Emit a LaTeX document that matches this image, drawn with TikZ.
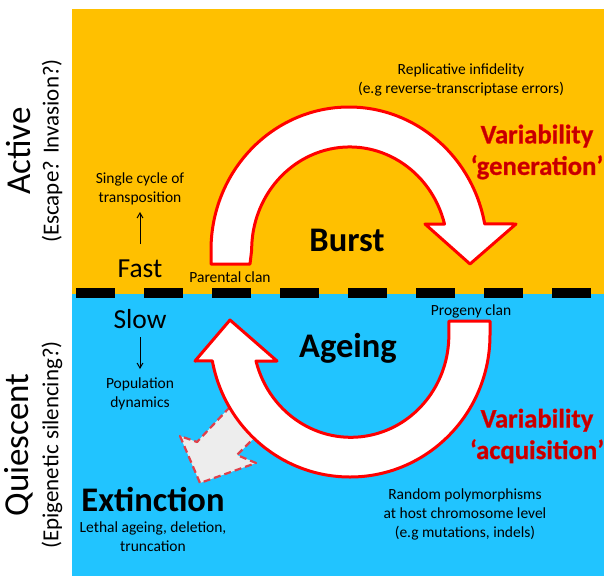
\documentclass[tikz,border=0pt]{standalone}
\usepackage{fontspec}
\setmainfont{Carlito}
\usetikzlibrary{arrows.meta}
\definecolor{orangebg}{HTML}{FFC000}
\definecolor{bluebg}{HTML}{21C4FF}
\definecolor{darkred}{HTML}{C00000}
\definecolor{arrowred}{HTML}{FF0000}
\definecolor{ghost}{HTML}{EDEDED}
\definecolor{ghostred}{HTML}{E0404A}
\newcommand{\outlined}[1]{\special{pdf:code 2 Tr 0.3 w 1 0 0 RG}#1\special{pdf:code 0 Tr}}
\tikzset{
  x=1pt,y=-1pt,
  band/.style={fill=black,draw=none},
  cyclearrow/.style={draw=arrowred,fill=white,line width=3pt,line join=round},
  ghostarrow/.style={draw=ghostred,fill=ghost,line width=2.2pt,dash pattern=on 7pt off 4pt,line join=round},
  small/.style={font=\fontsize{15.5}{19}\selectfont,align=center,text=black,inner sep=0pt},
  rate/.style={font=\fontsize{27.5}{30}\selectfont,text=black,inner sep=0pt},
  phase/.style={font=\fontsize{34.5}{40}\selectfont\bfseries,text=black,inner sep=0pt},
  vari/.style={font=\fontsize{26.7}{31.5}\selectfont\bfseries,align=center,text=darkred,inner sep=0pt},
  sidebig/.style={font=\fontsize{35}{40}\selectfont,rotate=90,text=black,inner sep=0pt},
  sidesmall/.style={font=\fontsize{23}{27}\selectfont,rotate=90,text=black,inner sep=0pt},
  thinarrow/.style={-{Straight Barb[length=5pt,width=14pt,angle'=60]},line width=1pt}
}
\begin{document}
\begin{tikzpicture}
\useasboundingbox (0,0) rectangle (608,576);
\fill[orangebg] (72,9) rectangle (604,294);
\fill[bluebg] (72,294) rectangle (604,576);
\foreach \px in {76,144,212,280,348,416,484,552}
  \fill[band] (\px,288) rectangle ++(39,10);
% ghost arrow
\draw[ghostarrow] (245,391) -- (197,442) -- (180,436) -- (200,483) -- (256,463) -- (237,455) -- (275,417);
% burst arrow
\draw[cyclearrow] (211,264) -- (211,250)
  arc[start angle=-180,end angle=-10.5,x radius=138,y radius=143]
  -- (516,224) -- (470,264) -- (425,224) -- (444.5,224)
  arc[start angle=-14.6,end angle=-180,x radius=98,y radius=103]
  -- (250,264) -- cycle;
% ageing arrow
\draw[cyclearrow] (490,321) -- (490,335)
  arc[start angle=0,end angle=169.5,x radius=140,y radius=142]
  -- (195,361) -- (230,320) -- (277,361) -- (256,361)
  arc[start angle=165.4,end angle=0,x radius=98,y radius=102]
  -- (449,321) -- cycle;
\node[phase] (burst) at (347,240) {Burst};
\node[phase] (ageing) at (348,348) {Ageing};
\node[phase] (extinction) at (153,499) {Extinction};
\node[small] (parental) at (230,277) {Parental clan};
\node[small] (progeny) at (471,311) {Progeny clan};
\node[rate] (fast) at (140,269) {Fast};
\node[rate] (slow) at (140,319) {Slow};
\node[small] (single) at (140,189) {Single cycle of\\transposition};
\node[small] (popdyn) at (140,394) {Population\\dynamics};
\node[small] (repl) at (461,80) {Replicative infidelity\\(e.g reverse-transcriptase errors)};
\node[small] (rand) at (465,514) {Random polymorphisms\\at host chromosome level\\(e.g mutations, indels)};
\node[small] (lethal) at (153,537) {Lethal ageing, deletion,\\truncation};
\node[vari] (vgen) at (537,152) {\outlined{Variability}\\\outlined{‘generation’}};
\node[vari] (vacq) at (537,436) {\outlined{Variability}\\\outlined{‘acquisition’}};
\node[sidebig] (active) at (19,151) {Active};
\node[sidesmall] (escape) at (52,151) {(Escape? Invasion?)};
\node[sidebig] (quiescent) at (19,445) {Quiescent};
\node[sidesmall] (epi) at (52,445) {(Epigenetic silencing?)};
\coordinate (upfrom) at (140,244);
\coordinate (upto) at (140,212);
\coordinate (dnfrom) at (140,337);
\coordinate (dnto) at (140,369);
\draw[thinarrow] (upfrom) -- (upto);
\draw[thinarrow] (dnfrom) -- (dnto);
\end{tikzpicture}
\end{document}
